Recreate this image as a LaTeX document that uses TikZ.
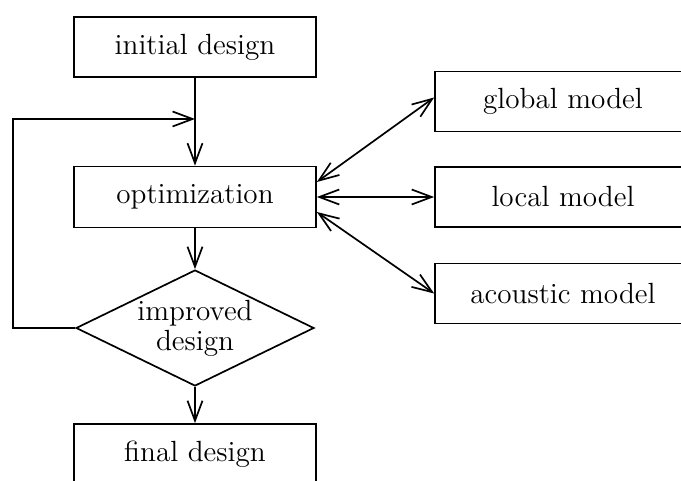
\documentclass[tikz,border=0pt]{standalone}
\usetikzlibrary{shapes.geometric,arrows.meta,calc}
\begin{document}
\begin{tikzpicture}[x=0.5pt,y=-0.5pt,
  line width=0.85pt,
  every node/.style={font=\fontsize{14.6}{15}\selectfont},
  box/.style={draw,rectangle,minimum width=121pt,minimum height=30pt,inner sep=0pt},
  modelbox/.style={draw,rectangle,minimum width=128pt,minimum height=30pt,inner sep=0pt},
  decision/.style={draw,diamond,aspect=2.05,minimum width=119pt,minimum height=58pt,inner sep=0pt,align=center},
  tip/.style={-{Straight Barb[length=10pt,width=7.5pt]}},
  bothtips/.style={{Straight Barb[length=10pt,width=7.5pt]}-{Straight Barb[length=10pt,width=7.5pt]}}]
\useasboundingbox (0,0) rectangle (681,481);
\clip (0,0) rectangle (681,481);

% main flow
\node[box] (init) at (195,47) {initial design};
\node[box,minimum height=30.5pt] (opt) at (195,197) {optimization};
\node[decision] (dec) at (195,328) {improved\\design};
\node[box] (final) at (195,454) {final design};

% models
\node[modelbox] (glob) at (563,101.5) {global model};
\node[modelbox] (loc) at (563,197) {local model};
\node[modelbox] (acou) at (563,293.5) {acoustic model};

% vertical connections
\coordinate (join) at (195,119);
\coordinate (loopx) at (13,0);
\draw (init.south) -- (join);
\draw[tip] (join) -- (opt.north);
\draw[tip] (opt.south) -- (dec.north);
\draw[tip] (dec.south) -- (final.north);

% feedback loop
\draw[tip] (dec.west) -- (dec.west -| loopx) |- (join);

% links to the models
\draw[bothtips] ($(opt.east)+(0,-15)$) -- ($(glob.west)+(0,-4)$);
\draw[bothtips] (opt.east) -- (loc.west);
\draw[bothtips] ($(opt.east)+(0,15)$) -- (acou.west);
\end{tikzpicture}
\end{document}
